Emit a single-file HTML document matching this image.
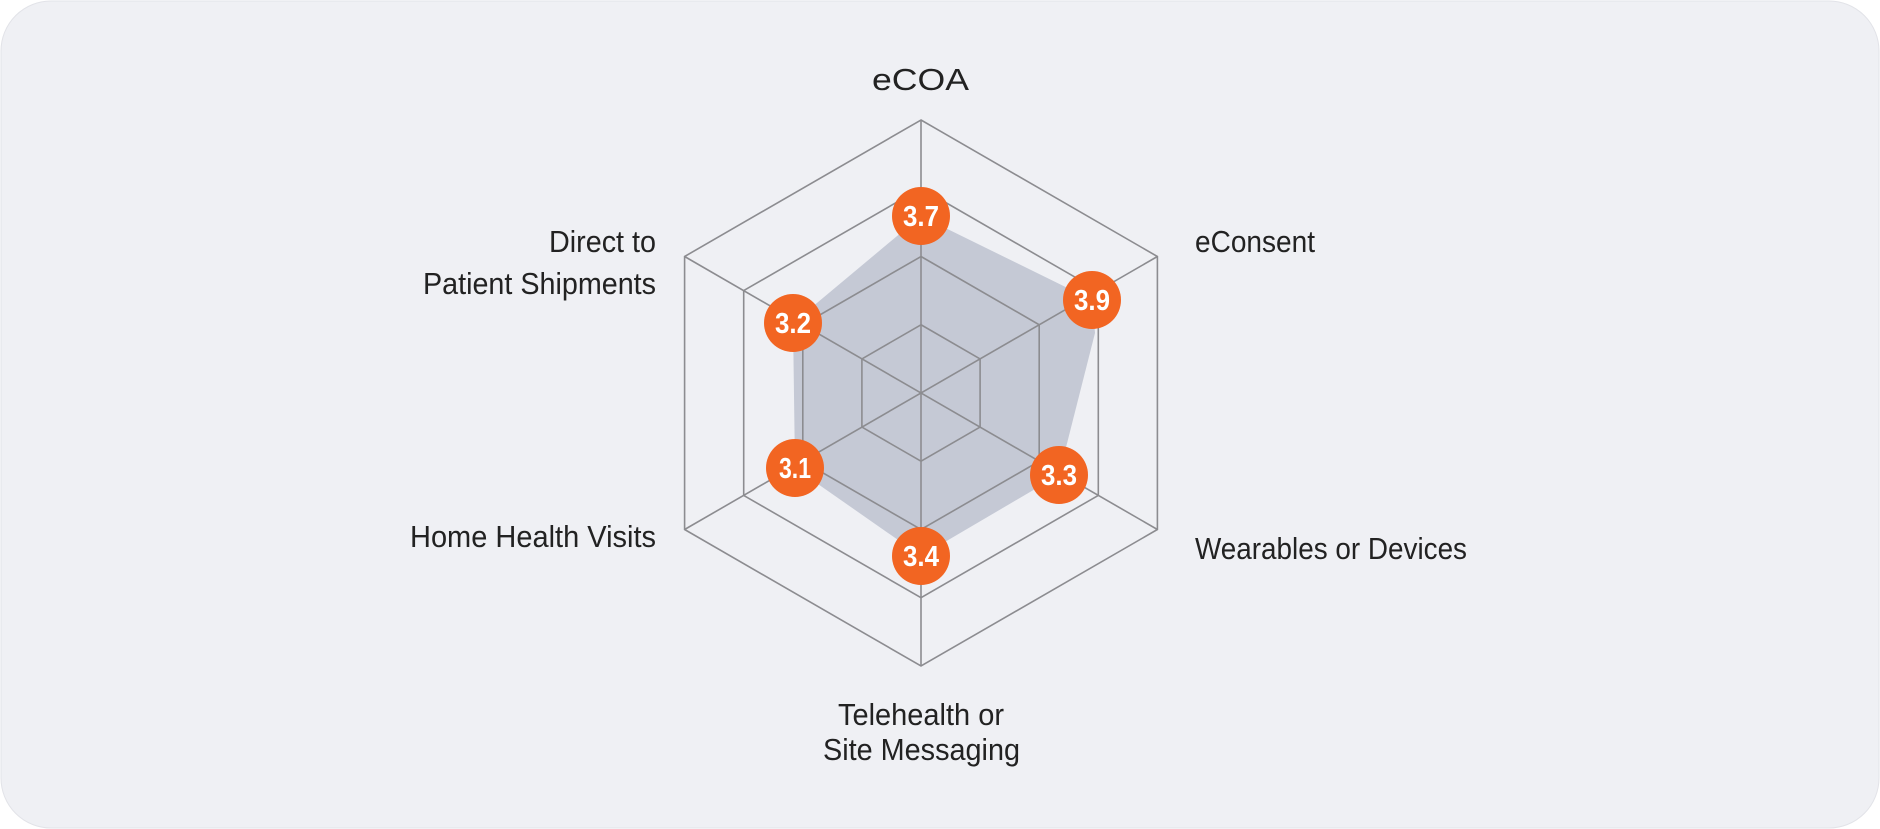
<!DOCTYPE html>
<html><head><meta charset="utf-8"><style>
html,body{margin:0;padding:0;background:#fff;}
svg{display:block;}
text{font-family:"Liberation Sans",sans-serif;}
</style></head><body>
<svg width="1880" height="829" viewBox="0 0 1880 829" xmlns="http://www.w3.org/2000/svg">
<rect x="1" y="1" width="1878" height="827" rx="50" fill="#eff0f4" stroke="#e2e3e8" stroke-width="1"/>
<g transform="translate(921,393)">
<polygon points="0,-177 171,-93 174,-60 138,82 0,163 -126,75 -128,-70" fill="#c5c9d5"/>
<g fill="none" stroke="#8c8c90" stroke-width="1.6">
<polygon points="0,-273 236.4,-136.5 236.4,136.5 0,273 -236.4,136.5 -236.4,-136.5"/>
<polygon points="0,-204.75 177.3,-102.4 177.3,102.4 0,204.75 -177.3,102.4 -177.3,-102.4"/>
<polygon points="0,-136.5 118.2,-68.25 118.2,68.25 0,136.5 -118.2,68.25 -118.2,-68.25"/>
<polygon points="0,-68.25 59.1,-34.1 59.1,34.1 0,68.25 -59.1,34.1 -59.1,-34.1"/>
<line x1="0" y1="-273" x2="0" y2="273"/>
<line x1="236.4" y1="-136.5" x2="-236.4" y2="136.5"/>
<line x1="236.4" y1="136.5" x2="-236.4" y2="-136.5"/>
</g>
</g>
<g fill="#f26522">
<circle cx="921" cy="216" r="29"/>
<circle cx="1092" cy="300" r="29"/>
<circle cx="1059" cy="475" r="29"/>
<circle cx="921" cy="556" r="29"/>
<circle cx="795" cy="468" r="29"/>
<circle cx="793" cy="323" r="29"/>
</g>
<g fill="#fff" font-size="29" font-weight="bold" text-anchor="middle">
<text x="921" y="226" textLength="36" lengthAdjust="spacingAndGlyphs">3.7</text>
<text x="1092" y="310" textLength="36" lengthAdjust="spacingAndGlyphs">3.9</text>
<text x="1059" y="485" textLength="36" lengthAdjust="spacingAndGlyphs">3.3</text>
<text x="921" y="566" textLength="36" lengthAdjust="spacingAndGlyphs">3.4</text>
<text x="795" y="478" textLength="32" lengthAdjust="spacingAndGlyphs">3.1</text>
<text x="793" y="333" textLength="36" lengthAdjust="spacingAndGlyphs">3.2</text>
</g>
<g fill="#222" font-size="31">
<text x="872" y="90" textLength="97" lengthAdjust="spacingAndGlyphs">eCOA</text>
<text x="1195" y="252" textLength="120" lengthAdjust="spacingAndGlyphs">eConsent</text>
<text x="1195" y="559" textLength="272" lengthAdjust="spacingAndGlyphs">Wearables or Devices</text>
<text x="838" y="725" textLength="166" lengthAdjust="spacingAndGlyphs">Telehealth or</text>
<text x="823" y="760" textLength="197" lengthAdjust="spacingAndGlyphs">Site Messaging</text>
<text x="410" y="547" textLength="246" lengthAdjust="spacingAndGlyphs">Home Health Visits</text>
<text x="549" y="252" textLength="107" lengthAdjust="spacingAndGlyphs">Direct to</text>
<text x="423" y="294" textLength="233" lengthAdjust="spacingAndGlyphs">Patient Shipments</text>
</g>
</svg>
</body></html>
